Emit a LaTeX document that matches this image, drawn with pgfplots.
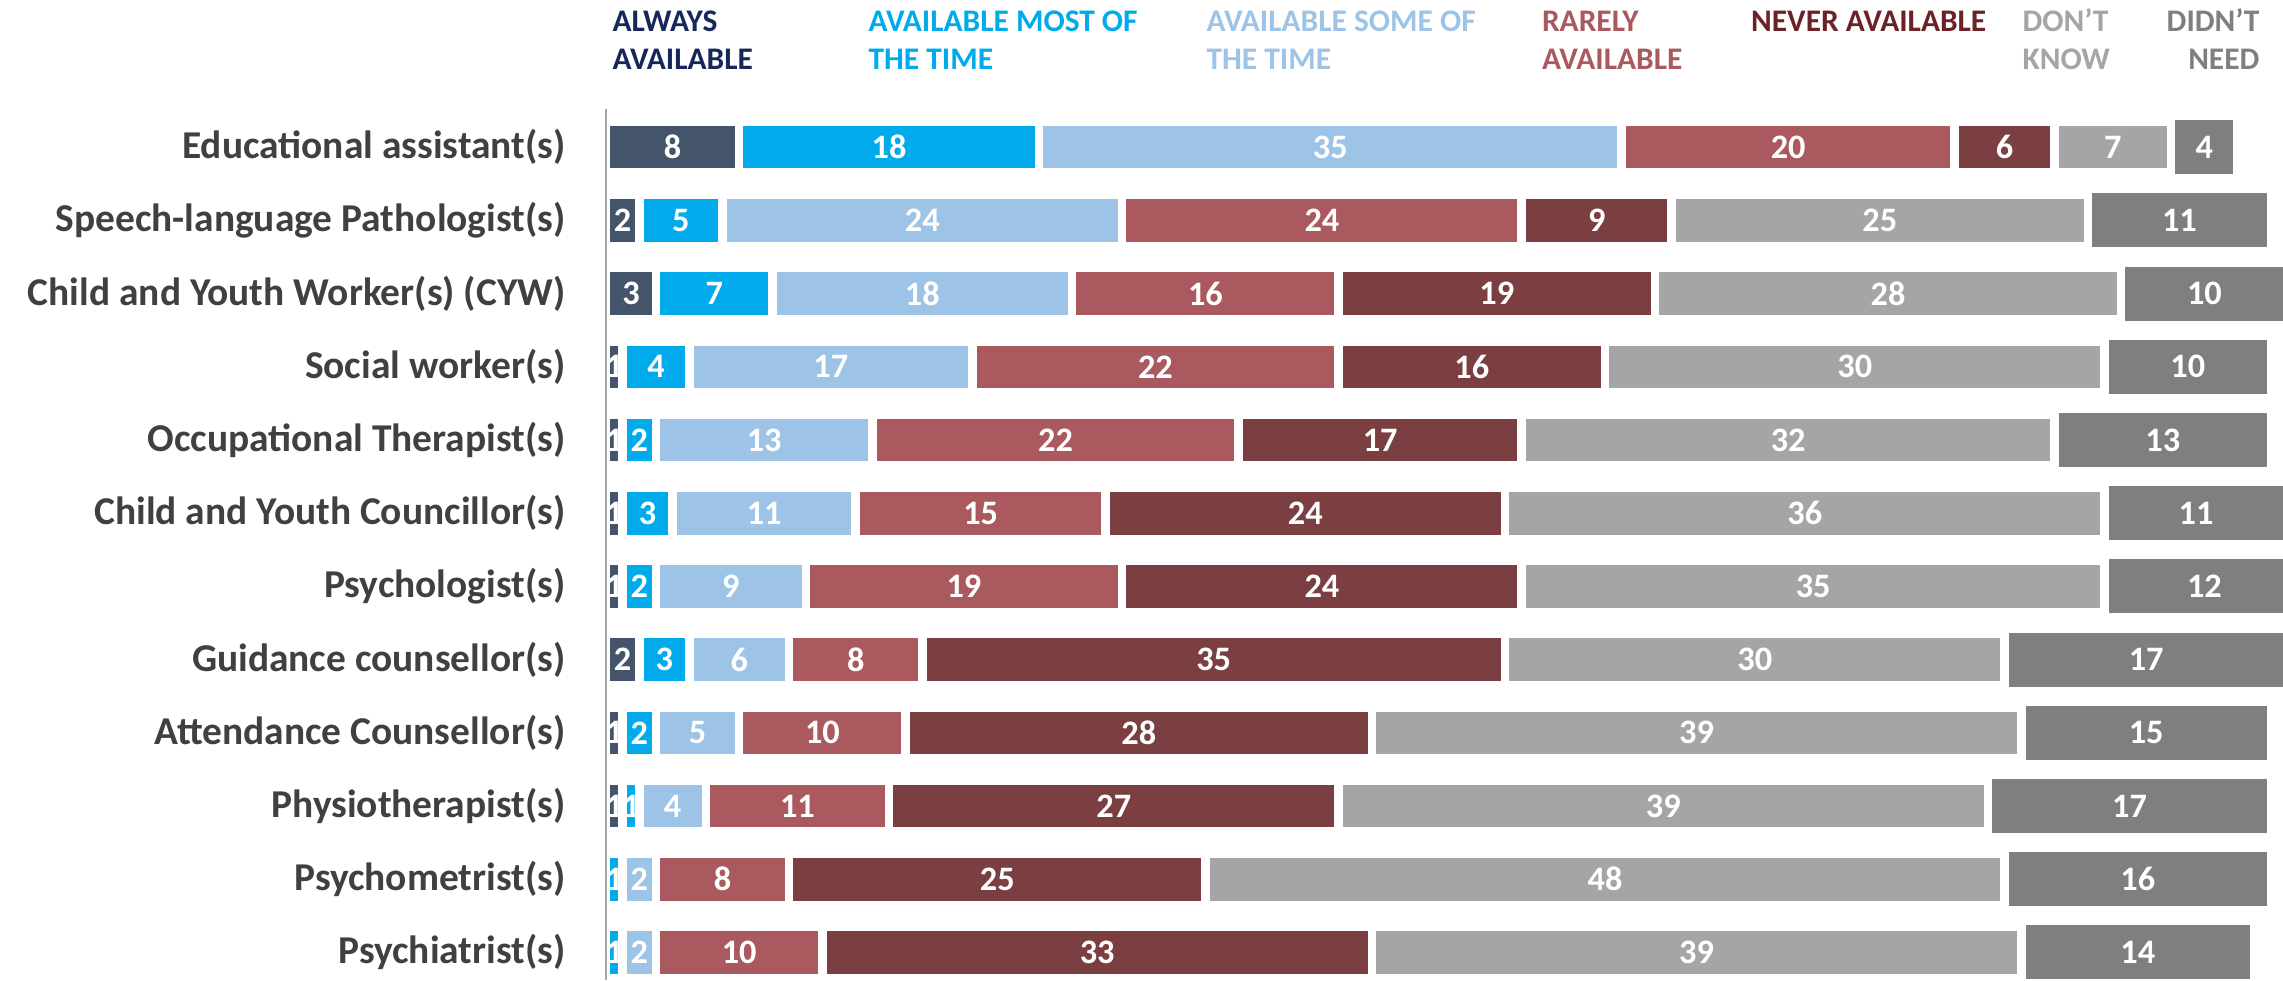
\documentclass[border=0pt]{standalone}
\usepackage{fontspec}
\setmainfont{Carlito}
\usepackage{pgfplots}
\pgfplotsset{compat=1.18}
\usepackage{pgfplotstable}

\definecolor{cAlways}{HTML}{44546A}
\definecolor{cMost}{HTML}{00AAEB}
\definecolor{cSome}{HTML}{9DC3E6}
\definecolor{cRare}{HTML}{AA5A5F}
\definecolor{cNever}{HTML}{7B3F42}
\definecolor{cDK}{HTML}{A5A5A5}
\definecolor{cDN}{HTML}{7F7F7F}
\definecolor{tAlways}{HTML}{16275A}
\definecolor{tNever}{HTML}{6B2326}
\definecolor{catText}{HTML}{404040}

% always / most / some / rarely / never / don't know / didn't need
\pgfplotstableread{
row always most some rarely never dk dn
0  8 18 35 20  6  7  4
1  2  5 24 24  9 25 11
2  3  7 18 16 19 28 10
3  1  4 17 22 16 30 10
4  1  2 13 22 17 32 13
5  1  3 11 15 24 36 11
6  1  2  9 19 24 35 12
7  2  3  6  8 35 30 17
8  1  2  5 10 28 39 15
9  1  1  4 11 27 39 17
10 0  1  2  8 25 48 16
11 0  1  2 10 33 39 14
}\datatable

% label positions: middle of each segment
\pgfplotstablecreatecol[create col/expr={\thisrow{always}/2}]{m1}\datatable
\pgfplotstablecreatecol[create col/expr={\thisrow{always}+\thisrow{most}/2}]{m2}\datatable
\pgfplotstablecreatecol[create col/expr={\thisrow{always}+\thisrow{most}+\thisrow{some}/2}]{m3}\datatable
\pgfplotstablecreatecol[create col/expr={\thisrow{always}+\thisrow{most}+\thisrow{some}+\thisrow{rarely}/2}]{m4}\datatable
\pgfplotstablecreatecol[create col/expr={\thisrow{always}+\thisrow{most}+\thisrow{some}+\thisrow{rarely}+\thisrow{never}/2}]{m5}\datatable
\pgfplotstablecreatecol[create col/expr={\thisrow{always}+\thisrow{most}+\thisrow{some}+\thisrow{rarely}+\thisrow{never}+\thisrow{dk}/2}]{m6}\datatable
\pgfplotstablecreatecol[create col/expr={\thisrow{always}+\thisrow{most}+\thisrow{some}+\thisrow{rarely}+\thisrow{never}+\thisrow{dk}+\thisrow{dn}/2}]{m7}\datatable

\pgfplotsset{
  frame/.style={
    at={(0pt,0pt)}, anchor=south west,
    scale only axis, width=582.75pt, height=304.85pt,
    xmin=0, xmax=100,
    ymin=-0.522, ymax=11.377, y dir=reverse,
    clip=false,
  },
  seg/.style={fill=#1, draw=white, line width=3pt},
  lab/.style={only marks, mark=*, mark size=0pt,
    mark options={draw=none, fill=none}},
}

\newcommand{\leg}[1]{\bfseries\fontsize{11}{13}\selectfont #1}

\begin{document}
\begin{tikzpicture}
\useasboundingbox (-212.1pt,0pt) rectangle (586.95pt,343pt);
\begin{axis}[
  frame,
  xbar stacked, bar width=17.9pt,
  axis x line=none, axis y line*=left,
  y axis line style={draw={rgb,255:red,165;green,165;blue,165}, line width=0.8pt},
  ytick={0,...,11},
  yticklabels={{Educational assistant(s)},{Speech-language Pathologist(s)},
    {Child and Youth Worker(s) (CYW)},{Social worker(s)},{Occupational Therapist(s)},
    {Child and Youth Councillor(s)},{Psychologist(s)},{Guidance counsellor(s)},
    {Attendance Counsellor(s)},{Physiotherapist(s)},{Psychometrist(s)},{Psychiatrist(s)}},
  major tick length=0pt,
  yticklabel style={font=\bfseries\fontsize{13.8}{14}\selectfont, text=catText,
    inner sep=0pt, xshift=-14pt},
  axis on top,
]
\addplot[seg=cAlways] table[x=always, y=row] {\datatable};
\addplot[seg=cMost] table[x=most, y=row] {\datatable};
\addplot[seg=cSome] table[x=some, y=row] {\datatable};
\addplot[seg=cRare] table[x=rarely, y=row] {\datatable};
\addplot[seg=cNever] table[x=never, y=row] {\datatable};
\addplot[seg=cDK] table[x=dk, y=row] {\datatable};
\addplot[seg=cDN, bar width=21.9pt] table[x=dn, y=row] {\datatable};
\end{axis}

\begin{axis}[
  frame, hide axis,
  point meta=explicit symbolic,
  nodes near coords={\ifnum\pgfplotspointmeta>0 \pgfplotspointmeta\fi},
  every node near coord/.append style={anchor=center, inner sep=0pt,
    font=\bfseries\fontsize{12}{12}\selectfont, text=white},
]
\addplot[lab] table[x=m1, y=row, meta=always] {\datatable};
\addplot[lab] table[x=m2, y=row, meta=most] {\datatable};
\addplot[lab] table[x=m3, y=row, meta=some] {\datatable};
\addplot[lab] table[x=m4, y=row, meta=rarely] {\datatable};
\addplot[lab] table[x=m5, y=row, meta=never] {\datatable};
\addplot[lab] table[x=m6, y=row, meta=dk] {\datatable};
\addplot[lab] table[x=m7, y=row, meta=dn] {\datatable};
\end{axis}

\node[anchor=base west, inner sep=0pt, text=tAlways] at (2.1pt,331.8pt) {\leg{ALWAYS}};
\node[anchor=base west, inner sep=0pt, text=tAlways] at (2.1pt,318.5pt) {\leg{AVAILABLE}};
\node[anchor=base west, inner sep=0pt, text=cMost] at (91.7pt,331.8pt) {\leg{AVAILABLE MOST OF}};
\node[anchor=base west, inner sep=0pt, text=cMost] at (91.7pt,318.5pt) {\leg{THE TIME}};
\node[anchor=base west, inner sep=0pt, text=cSome] at (210pt,331.8pt) {\leg{AVAILABLE SOME OF}};
\node[anchor=base west, inner sep=0pt, text=cSome] at (210pt,318.5pt) {\leg{THE TIME}};
\node[anchor=base west, inner sep=0pt, text=cRare] at (327.4pt,331.8pt) {\leg{RARELY}};
\node[anchor=base west, inner sep=0pt, text=cRare] at (327.4pt,318.5pt) {\leg{AVAILABLE}};
\node[anchor=base west, inner sep=0pt, text=tNever] at (400.6pt,331.8pt) {\leg{NEVER AVAILABLE}};
\node[anchor=base west, inner sep=0pt, text=cDK] at (495.6pt,331.8pt) {\leg{DON’T}};
\node[anchor=base west, inner sep=0pt, text=cDK] at (495.6pt,318.5pt) {\leg{KNOW}};
\node[anchor=base east, inner sep=0pt, text=cDN] at (578.9pt,331.8pt) {\leg{DIDN’T}};
\node[anchor=base east, inner sep=0pt, text=cDN] at (578.9pt,318.5pt) {\leg{NEED}};
\end{tikzpicture}
\end{document}
